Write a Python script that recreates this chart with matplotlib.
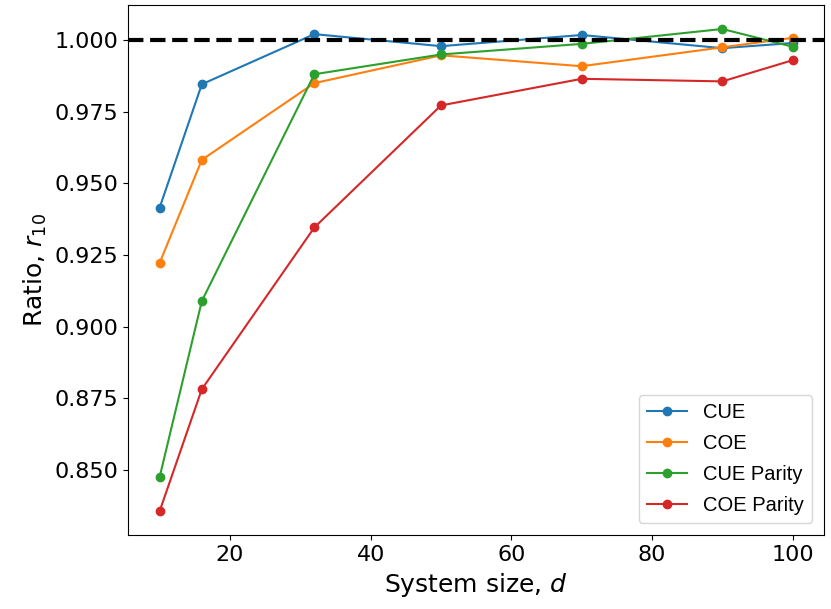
import matplotlib
matplotlib.use("Agg")
import matplotlib.pyplot as plt

d = [10, 16, 32, 50, 70, 90, 100]
cue = [0.9415, 0.9846, 1.0021, 0.9979, 1.0018, 0.9972, 0.9990]
coe = [0.9222, 0.9582, 0.9850, 0.9947, 0.9909, 0.9975, 1.0008]
cue_parity = [0.8474, 0.9089, 0.9881, 0.9950, 0.9987, 1.0039, 0.9977]
coe_parity = [0.8355, 0.8781, 0.9346, 0.9772, 0.9865, 0.9856, 0.9930]
labels = ["CUE", "COE", "CUE Parity", "COE Parity"]

fig = plt.figure(figsize=(8.31, 6.09), dpi=100)
ax = fig.add_axes([0.154, 0.121, 0.838, 0.871])
for ys, lab in zip([cue, coe, cue_parity, coe_parity], labels):
    ax.plot(d, ys, marker="o", label=lab, lw=1.5, ms=6)
ax.axhline(1.0, color="black", ls="--", lw=3)
ax.set_xlabel("System size, $d$", fontsize=18)
ax.set_ylabel("Ratio, $r_{10}$", fontsize=18)
ax.tick_params(labelsize=16)
ax.legend(loc="lower right", prop={"family": "Liberation Sans", "size": 14.5},
          handlelength=2.0, labelspacing=0.6, borderaxespad=0.6)
fig.savefig("out.png", dpi=100)
